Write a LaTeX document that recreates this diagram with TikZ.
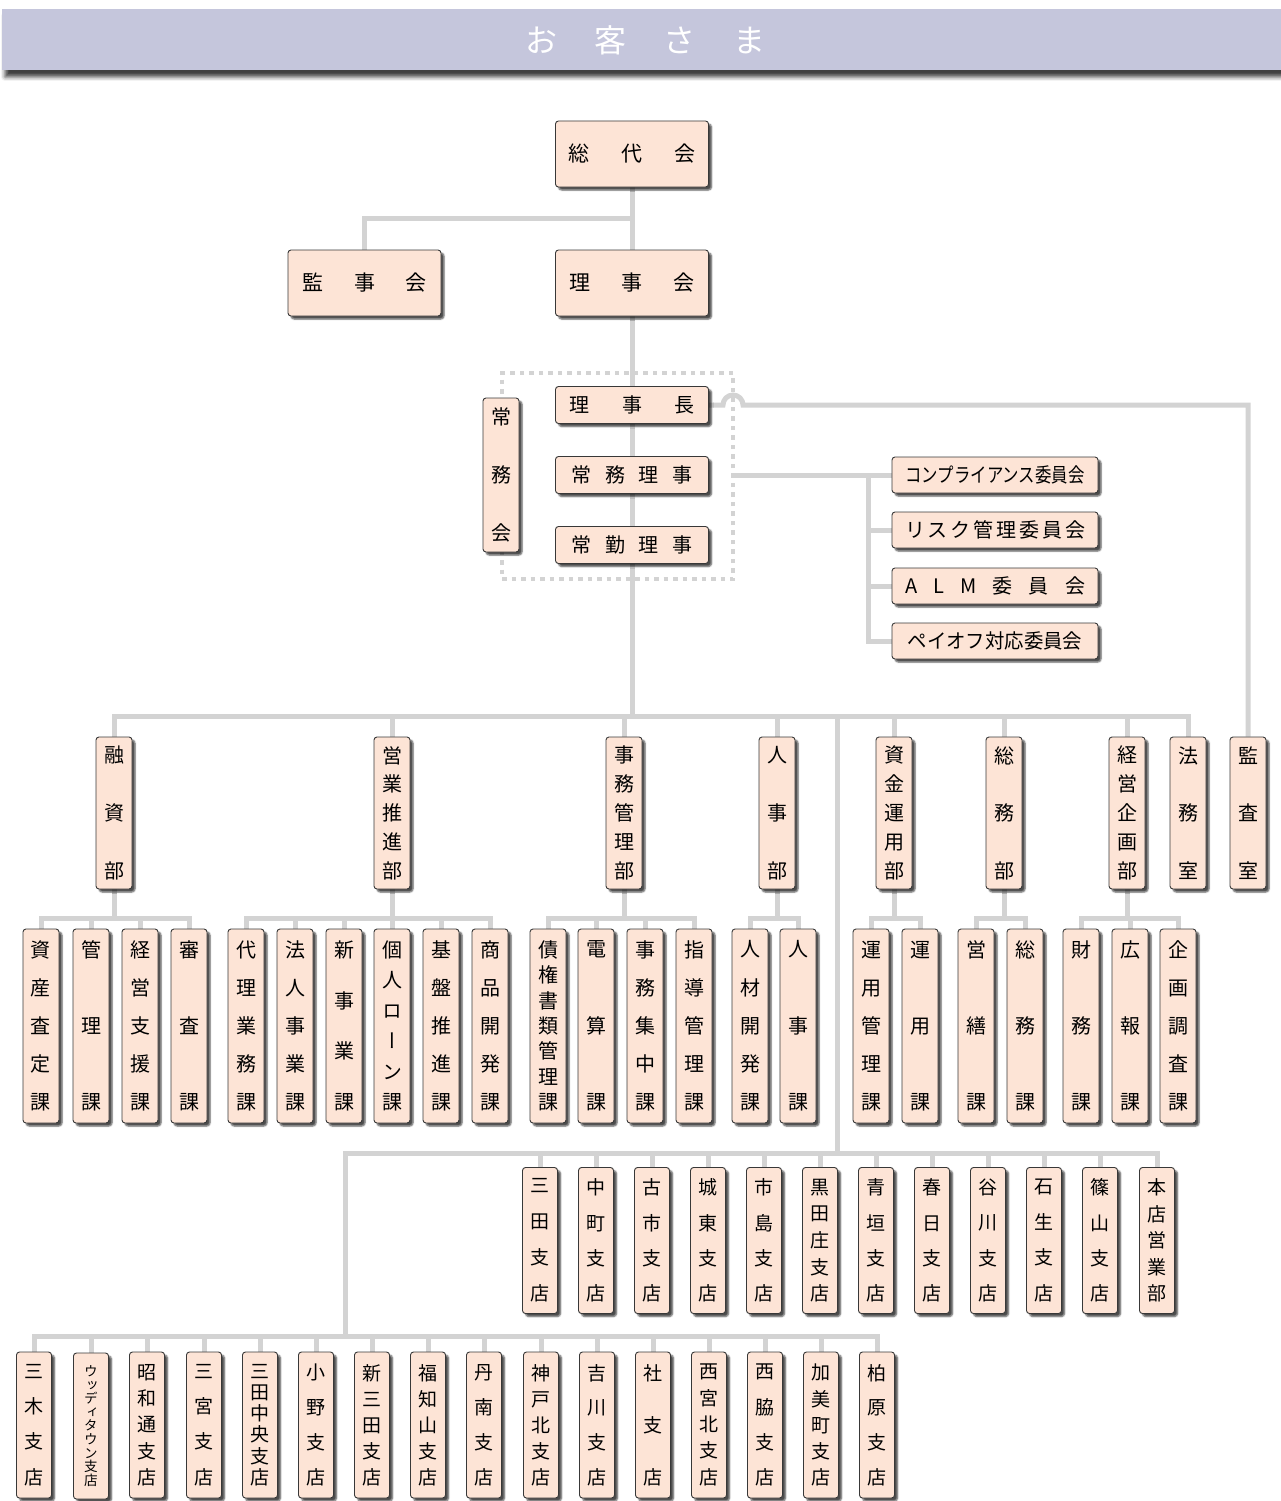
\documentclass[tikz,border=0pt]{standalone}
\usepackage{fontspec}
\usepackage{graphicx}
\newfontfamily\jp{Noto Sans CJK JP}
\newfontfamily\jpv[RawFeature=+vert]{Noto Sans CJK JP}
\usetikzlibrary{shadows.blur,backgrounds,calc}
\definecolor{boxfill}{HTML}{FDE4D6}
\definecolor{linegray}{HTML}{D3D3D3}
\definecolor{bannerc}{HTML}{C5C6DC}
\def\vend{\vend}
\def\gobbleone#1{}
\def\intA#1#2{#1\ifx\vend#2\expandafter\gobbleone\else\vfill\expandafter\intA\fi#2}
\newcommand\vt[2]{\parbox[c][#1pt][s]{30pt}{\centering\expandafter\intA#2\vend}}
\newcommand\hs[2]{\makebox[#1pt][s]{#2}}
\begin{document}
\begin{tikzpicture}[x=1pt,y=-1pt,
  bx/.style={draw=black!78, line width=0.9pt, fill=boxfill, rounded corners=3pt, inner sep=0pt,
    blur shadow={shadow xshift=3pt, shadow yshift=-3pt, shadow blur radius=1.5pt, shadow blur steps=5, shadow opacity=70}},
  hb/.style={bx, minimum width=153pt, minimum height=66pt, font=\jp\fontsize{21}{24}\selectfont},
  sb/.style={bx, minimum width=153pt, minimum height=37pt, font=\jp\fontsize{20}{24}\selectfont},
  cb/.style={bx, minimum width=206pt, minimum height=36pt, font=\jp\fontsize{20}{24}\selectfont},
  vb/.style={bx, minimum width=36pt, font=\jpv\fontsize{20}{22}\selectfont},
  db/.style={vb, minimum height=152pt},
  secb/.style={vb, minimum height=194pt},
  brb/.style={vb, minimum width=35pt, minimum height=146pt, font=\jpv\fontsize{19}{21}\selectfont},
  conn/.style={draw=linegray, line width=5pt},
  dotgrp/.style={draw=linegray, line width=4.5pt, dash pattern=on 4.5pt off 5pt, inner sep=0pt, outer sep=0pt}
]
\useasboundingbox (0,0) rectangle (1281,1501);

% banner
\path[fill=bannerc, blur shadow={shadow xshift=3pt, shadow yshift=-7pt, shadow blur radius=4pt, shadow opacity=75}] (2,9) rectangle (1300,70);
\node[font=\jp\fontsize{32}{32}\selectfont, text=white] (bannertext) at (645,40) {\hs{240}{お\hfill 客\hfill さ\hfill ま}};

% top
\node[hb] (sodai) at (632,154) {\hs{127}{総\hfill 代\hfill 会}};
\node[hb] (kanjikai) at (364.5,283) {\hs{125}{監\hfill 事\hfill 会}};
\node[hb] (rijikai) at (632,283) {\hs{125}{理\hfill 事\hfill 会}};

% executive group
\node[sb] (richo) at (632,405) {\hs{125}{理\hfill 事\hfill 長}};
\node[sb] (jomuriji) at (632,475) {\hs{121}{常\hfill 務\hfill 理\hfill 事}};
\node[sb] (jokinriji) at (632,545) {\hs{121}{常\hfill 勤\hfill 理\hfill 事}};
\node[vb, minimum height=154pt] (jomukai) at (501,475) {\vt{132}{常務会}};

% committees
\node[cb] (c1) at (995,475) {\scalebox{0.82}[1]{コンプライアンス委員会}};
\node[cb] (c2) at (995,530) {\hs{180}{リ\hfill ス\hfill ク\hfill 管\hfill 理\hfill 委\hfill 員\hfill 会}};
\node[cb] (c3) at (995,586) {\hs{180}{A\hfill L\hfill M\hfill 委\hfill 員\hfill 会}};
\node[cb] (c4) at (995,641) {\scalebox{0.97}[1]{ペイオフ対応委員会}};

% departments
\foreach \n/\x/\t in {yushi/114/融資部, eigyo/392/営業推進部, jimu/624/事務管理部, jinji/777/人事部, shikin/894/資金運用部, somu/1004/総務部, keiei/1127/経営企画部, houmu/1188/法務室, kansa/1248/監査室}
  \node[db] (\n) at (\x,813) {\vt{132}{\t}};

% sections
\foreach \n/\x/\t in {sa1/41/資産査定課, sa2/91/管理課, sa3/140/経営支援課, sa4/189/審査課,
  sb1/246/代理業務課, sb2/295/法人事業課, sb3/344/新事業課, sb4/392/個人ローン課, sb5/441/基盤推進課, sb6/490/商品開発課,
  sc1/548/債権書類管理課, sc2/596/電算課, sc3/645/事務集中課, sc4/694/指導管理課,
  sd1/750/人材開発課, sd2/798/人事課,
  se1/871/運用管理課, se2/920/運用課,
  sf1/976/営繕課, sf2/1025/総務課,
  sg1/1081/財務課, sg2/1130/広報課, sg3/1178/企画調査課}
  \node[secb] (\n) at (\x,1026) {\vt{169}{\t}};

% branches row 1
\foreach \n/\x/\t in {r1/540/三田支店, r2/596/中町支店, r3/652/古市支店, r4/708/城東支店, r5/764/市島支店, r6/820/黒田庄支店, r7/876/青垣支店, r8/932/春日支店, r9/988/谷川支店, r10/1044/石生支店, r11/1100/篠山支店, r12/1157/本店営業部}
  \node[brb] (\n) at (\x,1240.5) {\vt{122}{\t}};

% branches row 2
\foreach \n/\x/\t in {q1/34/三木支店, q3/147/昭和通支店, q4/204/三宮支店, q5/260/三田中央支店, q6/316/小野支店, q7/372/新三田支店, q8/428/福知山支店, q9/484/丹南支店, q10/541/神戸北支店, q11/597/吉川支店, q12/653/社支店, q13/709/西宮北支店, q14/765/西脇支店, q15/821/加美町支店, q16/877/柏原支店}
  \node[brb] (\n) at (\x,1425) {\vt{120}{\t}};
\node[brb] (q2) at (91,1426) {\parbox{30pt}{\centering\fontsize{13.6}{13.6}\selectfont\lineskiplimit=-100pt ウ\par ッ\par デ\par ィ\par タ\par ウ\par ン\par 支\par 店}};

% connectors
\begin{scope}[on background layer]
  \node[dotgrp, minimum width=231pt, minimum height=206pt] (jgroup) at (617.5,476) {};
  \draw[conn] (sodai.south) -- (rijikai.north);
  \coordinate (m1) at ($(sodai.south)!0.5!(rijikai.north)$);
  \draw[conn] (kanjikai.north) |- (m1);
  \coordinate (busy) at (0,716);
  \draw[conn] (rijikai.south) -- (rijikai.south |- busy);
  \draw[conn] (yushi.north) |- (houmu.north |- busy) -- (houmu.north);
  \foreach \d in {eigyo,jimu,jinji,shikin,somu,keiei}
    \draw[conn] (\d.north) -- (\d.north |- busy);
  % chairman to audit office, hopping over dotted line
  \coordinate (hop) at (jgroup.east |- richo.east);
  \draw[conn] (richo.east) -- ($(hop)+(-10,0)$) arc[start angle=180,end angle=0,radius=10pt] -- (kansa.north |- richo.east) -- (kansa.north);
  % committees
  \coordinate (ct) at (868,0);
  \draw[conn] (jgroup.east |- c1.west) -- (c1.west);
  \draw[conn] (ct |- c1.west) |- (c4.west);
  \foreach \c in {c2,c3}
    \draw[conn] (ct |- \c.west) -- (\c.west);
  % sections
  \coordinate (sby) at (0,918);
  \foreach \d/\a/\b in {yushi/sa1/sa4, eigyo/sb1/sb6, jimu/sc1/sc4, jinji/sd1/sd2, shikin/se1/se2, somu/sf1/sf2, keiei/sg1/sg3} {
    \draw[conn] (\d.south) -- (\d.south |- sby);
    \draw[conn] (\a.north) |- (\b.north |- sby) -- (\b.north);
  }
  \foreach \s in {sa2,sa3,sb2,sb3,sb4,sb5,sc2,sc3,sg2}
    \draw[conn] (\s.north) -- (\s.north |- sby);
  % branches
  \coordinate (bv) at (837,716);
  \coordinate (b1y) at (0,1153);
  \coordinate (b2y) at (0,1336);
  \coordinate (bl) at (345,1153);
  \draw[conn] (bv) -- (bv |- b1y);
  \draw[conn] (bl |- b2y) |- (r12.north |- b1y) -- (r12.north);
  \foreach \r in {r1,r2,r3,r4,r5,r6,r7,r8,r9,r10,r11}
    \draw[conn] (\r.north) -- (\r.north |- b1y);
  \draw[conn] (q1.north) |- (q16.north |- b2y) -- (q16.north);
  \foreach \q in {q2,q3,q4,q5,q6,q7,q8,q9,q10,q11,q12,q13,q14,q15}
    \draw[conn] (\q.north) -- (\q.north |- b2y);
\end{scope}
\end{tikzpicture}
\end{document}
